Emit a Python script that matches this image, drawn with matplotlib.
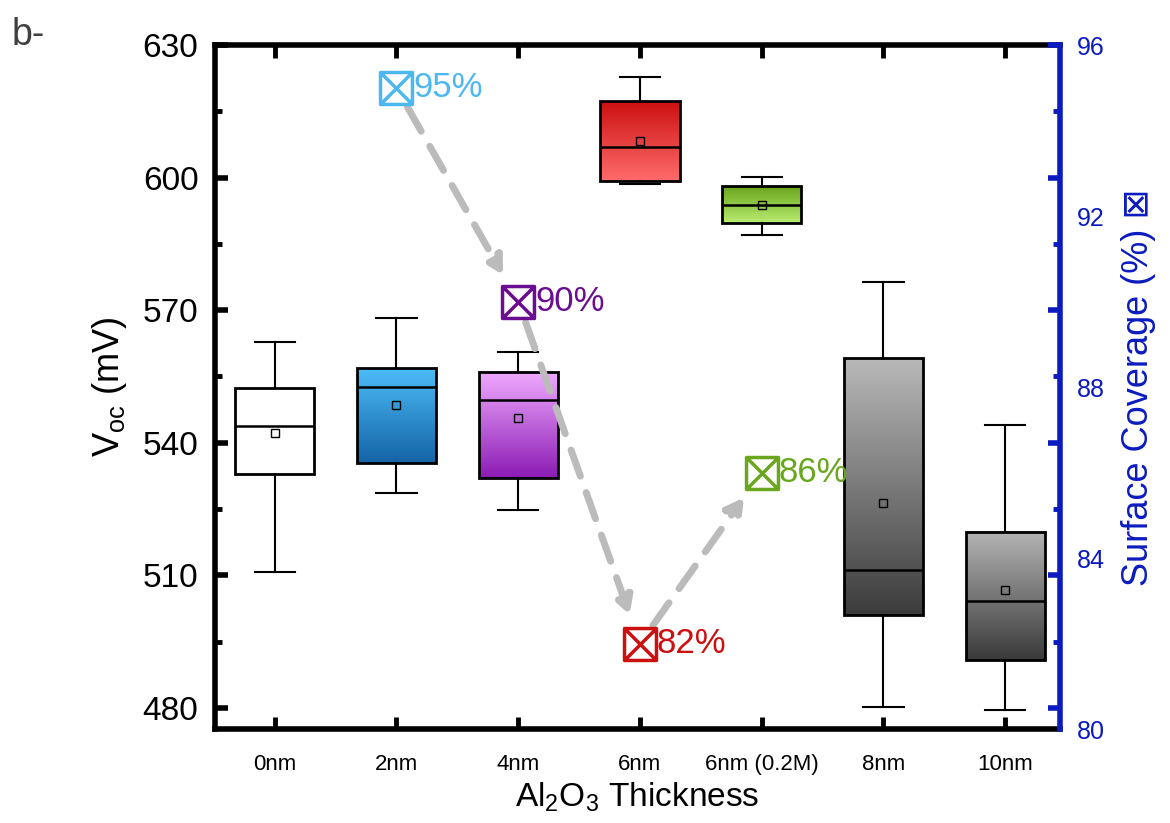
import numpy as np
import matplotlib
matplotlib.use("Agg")
import matplotlib.pyplot as plt
from matplotlib.colors import LinearSegmentedColormap
from matplotlib.path import Path
from matplotlib.ticker import MultipleLocator

plt.rcParams["font.family"] = ["Liberation Sans", "DejaVu Sans"]
plt.rcParams["mathtext.fontset"] = "custom"
plt.rcParams["mathtext.rm"] = "Liberation Sans"
plt.rcParams["mathtext.it"] = "Liberation Sans:italic"

# data
categories = ["0nm", "2nm", "4nm", "6nm", "6nm (0.2M)", "8nm", "10nm"]
whis_lo = [510.7, 528.6, 524.8, 598.5, 587.1, 480.2, 479.5]
q1 = [532.9, 535.3, 531.9, 599.2, 589.7, 501.1, 490.8]
median = [543.8, 552.7, 549.6, 607.0, 593.7, 511.1, 504.1]
q3 = [552.3, 556.8, 555.9, 617.3, 598.0, 559.2, 519.9]
whis_hi = [562.7, 568.2, 560.5, 622.8, 600.1, 576.4, 544.0]
mean = [542.3, 548.6, 545.6, 608.3, 593.7, 526.4, 506.6]

# box gradient colours (top, bottom)
grad_top = ["#ffffff", "#4cbcf8", "#efaaff", "#cc1111", "#6aa41c", "#b8b8b8", "#b4b4b4"]
grad_bot = ["#ffffff", "#1464a6", "#8c1cb4", "#ff6b6b", "#b8ec70", "#3c3c3c", "#3a3a3a"]

# surface coverage points
cov_idx = [1, 2, 3, 4]
coverage = [95, 90, 82, 86]
cov_colors = ["#4db8f0", "#6a0d91", "#cc1010", "#6aa61e"]

blue = "#0b1bbf"
voc_lim = (475.2, 630)
cov_lim = (80, 96)

fig = plt.figure(figsize=(11.7, 8.23), dpi=100)
ax = fig.add_axes([0.1838, 0.1142, 0.7222, 0.8311])

pos = np.arange(1, len(categories) + 1)
box_w = 0.65
stats = []
for i in range(len(categories)):
    stats.append({"whislo": whis_lo[i], "q1": q1[i], "med": median[i],
                  "q3": q3[i], "whishi": whis_hi[i], "mean": mean[i], "fliers": []})

# gradient fills
for i, p in enumerate(pos):
    cmap = LinearSegmentedColormap.from_list("g%d" % i, [grad_bot[i], grad_top[i]])
    grad = np.linspace(0, 1, 100).reshape(-1, 1)
    ax.imshow(grad, cmap=cmap, origin="lower", aspect="auto",
              extent=(p - box_w / 2, p + box_w / 2, q1[i], q3[i]), zorder=1)

ax.bxp(stats, positions=pos, widths=box_w, showmeans=True, patch_artist=True,
       capwidths=0.33,
       boxprops=dict(facecolor="none", edgecolor="black", linewidth=2),
       medianprops=dict(color="black", linewidth=1.8),
       whiskerprops=dict(color="black", linewidth=1.5),
       capprops=dict(color="black", linewidth=1.5),
       meanprops=dict(marker="s", markerfacecolor="none", markeredgecolor="black",
                      markersize=6, markeredgewidth=1),
       manage_ticks=False, zorder=3)

ax.set_xlim(0.51, 7.45)
ax.set_ylim(*voc_lim)
ax.set_xticks(pos)
ax.set_xticklabels(categories, fontsize=16)
ax.yaxis.set_major_locator(MultipleLocator(30))
ax.yaxis.set_minor_locator(MultipleLocator(15))
ax.tick_params(axis="y", which="major", direction="in", length=9, width=4,
               labelsize=24, pad=12)
ax.tick_params(axis="y", which="minor", direction="in", length=5, width=3.5)
ax.tick_params(axis="x", which="major", direction="in", length=9, width=3.5,
               top=True, pad=18)
ax.tick_params(axis="y", right=False, which="both")
for s in ["left", "top", "bottom"]:
    ax.spines[s].set_linewidth(4)
ax.set_ylabel(r"V$_{\rm oc}$ (mV)", fontsize=26, labelpad=10)
ax.set_xlabel(r"Al$_2$O$_3$ Thickness", fontsize=24, labelpad=4)

# right side tick marks follow the left axis ticks
ax3 = ax.twinx()
ax3.set_ylim(*voc_lim)
ax3.yaxis.set_major_locator(MultipleLocator(30))
ax3.yaxis.set_minor_locator(MultipleLocator(15))
ax3.tick_params(axis="y", which="major", direction="in", length=9, width=4,
                colors=blue, labelright=False)
ax3.tick_params(axis="y", which="minor", direction="in", length=5, width=3.5,
                colors=blue, labelright=False)
for s in ax3.spines.values():
    s.set_visible(False)

# right axis labels
ax2 = ax.twinx()
ax2.set_ylim(*cov_lim)
ax2.yaxis.set_major_locator(MultipleLocator(4))
ax2.yaxis.set_minor_locator(MultipleLocator(2))
ax2.tick_params(axis="y", which="major", length=0, colors=blue, labelsize=18, pad=12)
ax2.tick_params(axis="y", which="minor", length=0)
for s in ["left", "top", "bottom"]:
    ax2.spines[s].set_visible(False)
ax2.spines["right"].set_color(blue)
ax2.spines["right"].set_linewidth(4)
ax2.set_ylabel("Surface Coverage (%) \u22a0", color=blue, fontsize=26, labelpad=12)

# boxed-x marker
verts = [(-1, -1), (1, -1), (1, 1), (-1, 1), (-1, -1),
         (-1, -1), (1, 1), (-1, 1), (1, -1)]
codes = [Path.MOVETO, Path.LINETO, Path.LINETO, Path.LINETO, Path.CLOSEPOLY,
         Path.MOVETO, Path.LINETO, Path.MOVETO, Path.LINETO]
boxx = Path(verts, codes)

# dashed arrows between coverage points
for k in range(len(cov_idx) - 1):
    ax2.annotate("", xy=(pos[cov_idx[k + 1]], coverage[k + 1]),
                 xytext=(pos[cov_idx[k]], coverage[k]),
                 arrowprops=dict(arrowstyle="-|>,head_length=1.0,head_width=0.55",
                                 color="#bbbbbb", lw=5, linestyle=(0, (4, 2.5)),
                                 shrinkA=16, shrinkB=22),
                 zorder=2)

for k, i in enumerate(cov_idx):
    ax2.plot(pos[i], coverage[k], marker=boxx, markersize=23, markerfacecolor="white",
             markeredgecolor=cov_colors[k], markeredgewidth=2.5, linestyle="none",
             zorder=5)
    ax2.annotate("%d%%" % coverage[k], xy=(pos[i], coverage[k]), xytext=(12, 0),
                 textcoords="offset points", color=cov_colors[k], fontsize=25,
                 ha="left", va="center", zorder=5)

fig.text(0.01, 0.958, "b-", fontsize=27, color="#404040", ha="left", va="center")

fig.savefig("out.png", dpi=100)
